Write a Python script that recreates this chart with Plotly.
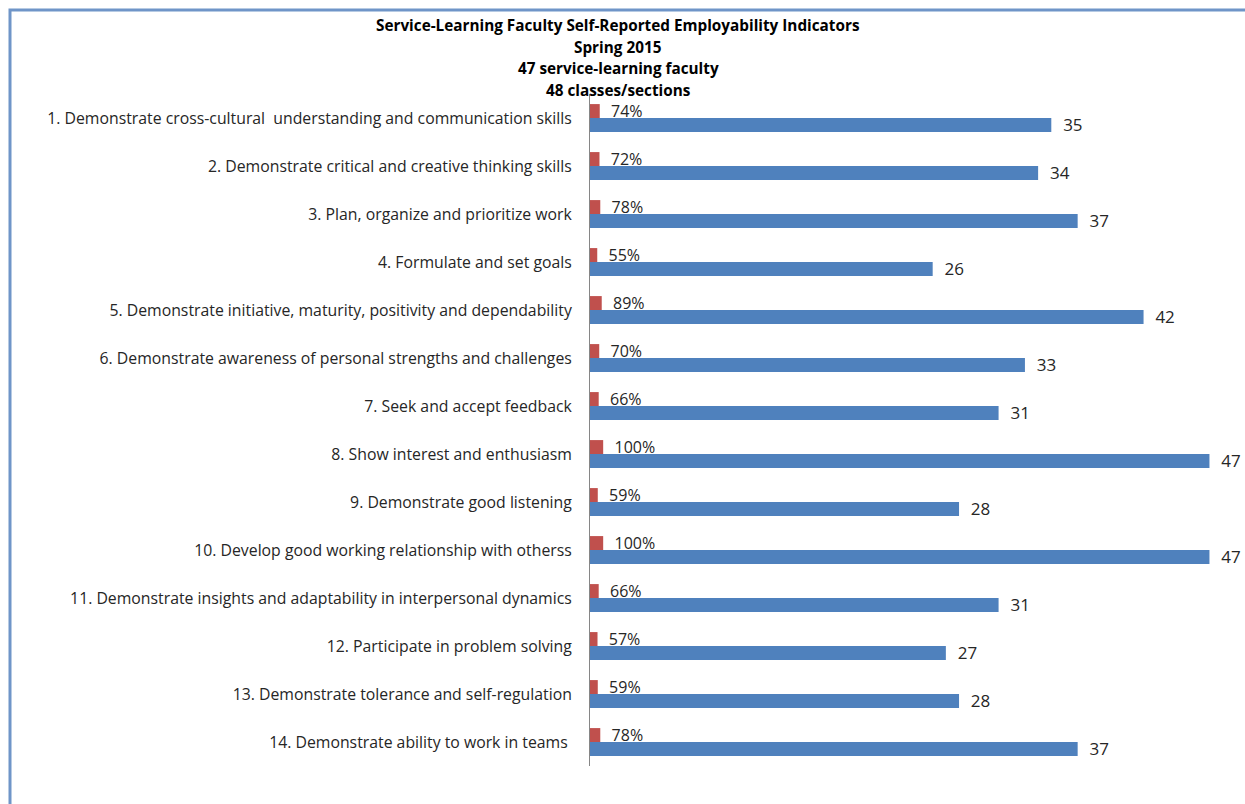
import plotly.graph_objects as go

categories = [
    "1. Demonstrate cross-cultural  understanding and communication skills",
    "2. Demonstrate critical and creative thinking skills",
    "3. Plan, organize and prioritize work",
    "4. Formulate and set goals",
    "5. Demonstrate initiative, maturity, positivity and dependability",
    "6. Demonstrate awareness of personal strengths and challenges",
    "7. Seek and accept feedback",
    "8. Show interest and enthusiasm",
    "9. Demonstrate good listening",
    "10. Develop good working relationship with otherss",
    "11. Demonstrate insights and adaptability in interpersonal dynamics",
    "12. Participate in problem solving",
    "13. Demonstrate tolerance and self-regulation",
    "14. Demonstrate ability to work in teams ",
]
counts = [35, 34, 37, 26, 42, 33, 31, 47, 28, 47, 31, 27, 28, 37]
percents = [0.74, 0.72, 0.78, 0.55, 0.89, 0.70, 0.66, 1.00, 0.59, 1.00, 0.66, 0.57, 0.59, 0.78]
title_lines = [
    "Service-Learning Faculty Self-Reported Employability Indicators",
    "Spring 2015",
    "47 service-learning faculty",
    "48 classes/sections",
]

FONT = "Open Sans"
W, H = 1245, 804
ML, MR, MT, MB = 590, 0, 94, 38
PW = W - ML - MR
PH = H - MT - MB

def px_x(px):
    return (px - ML) / PW

def px_y(py):
    return (H - MB - py) / PH

fig = go.Figure()
fig.add_trace(go.Bar(
    y=categories, x=percents, orientation="h", name="Percent",
    marker=dict(color="#c0504d", line=dict(width=0)),
    text=[f"  {round(p*100)}%" for p in percents],
    textposition="outside", cliponaxis=False, constraintext="none",
    textfont=dict(family=FONT, size=16, color="#262626"),
))
fig.add_trace(go.Bar(
    y=categories, x=counts, orientation="h", name="Count",
    marker=dict(color="#4f81bd", line=dict(width=0)),
    text=[f"  {c}" for c in counts],
    textposition="outside", cliponaxis=False, constraintext="none",
    textfont=dict(family=FONT, size=17, color="#262626"),
))

for i, line in enumerate(title_lines):
    fig.add_annotation(
        text=f"<b>{line}</b>", xref="paper", yref="paper",
        x=px_x(618), y=px_y(25 + i * 21.7), xanchor="center", yanchor="middle",
        showarrow=False, font=dict(family=FONT, size=15.3, color="#000000"),
    )

# outer frame
fig.add_shape(type="rect", xref="paper", yref="paper",
              x0=px_x(10), x1=px_x(1260), y0=px_y(820), y1=px_y(10),
              line=dict(color="#6f95c8", width=3), fillcolor="rgba(0,0,0,0)", layer="below")

fig.update_layout(
    width=W, height=H,
    margin=dict(l=ML, r=MR, t=MT, b=MB, autoexpand=False),
    barmode="group", bargap=0.42, bargroupgap=0,
    showlegend=False,
    plot_bgcolor="white", paper_bgcolor="white",
    font=dict(family=FONT, size=14, color="#262626"),
)
fig.update_xaxes(range=[0, PW / 13.18], visible=False, fixedrange=True)
fig.update_yaxes(autorange="reversed", showline=True, linecolor="#868686", linewidth=1,
                 ticks="", showgrid=False, ticklabelstandoff=14,
                 tickfont=dict(family=FONT, size=15.8, color="#262626"))

fig.write_html("out.html")
